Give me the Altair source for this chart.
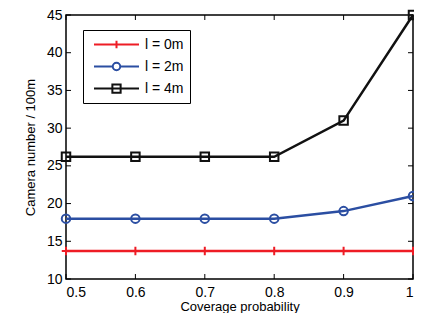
import altair as alt
import pandas as pd

# ---- data ----
coverage = [0.5, 0.6, 0.7, 0.8, 0.9, 1.0]
cam_l0 = [13.7, 13.7, 13.7, 13.7, 13.7, 13.7]
cam_l2 = [18.0, 18.0, 18.0, 18.0, 19.0, 21.0]
cam_l4 = [26.2, 26.2, 26.2, 26.2, 31.0, 45.0]
series_names = ["l = 0m", "l = 2m", "l = 4m"]
marker_keys = ["m0", "m2", "m4"]
series_colors = ["#ee1c25", "#2b4ea2", "#111111"]
x_ticks = [0.5, 0.6, 0.7, 0.8, 0.9, 1.0]
y_ticks = [10, 15, 20, 25, 30, 35, 40, 45]

rows = []
for name, key, vals in zip(series_names, marker_keys, [cam_l0, cam_l2, cam_l4]):
    for c, v in zip(coverage, vals):
        rows.append({"p": c, "v": v, "s": name, "m": key})
df = pd.DataFrame(rows)

W, H = 347, 264
FONT = "Liberation Sans"

xs = alt.Scale(domain=[0.5, 1.0], nice=False, zero=False)
ys = alt.Scale(domain=[10, 45], nice=False, zero=False)
cs = alt.Scale(domain=series_names, range=series_colors)
ms = alt.Scale(domain=marker_keys, range=series_colors)
ss = alt.Scale(domain=marker_keys,
               range=["M-1,0H1M0,-1V1", "circle", "M-1,-1H1V1H-1Z"])

shape_expr = (
    "datum.value === 'l = 0m' ? 'M-3,0H3M0,-0.5V0.5' : "
    "datum.value === 'l = 2m' ? 'M-3,0H-0.5M0.5,0H3M0.5,0A0.5,0.5,0,1,1,-0.5,0A0.5,0.5,0,1,1,0.5,0' : "
    "'M-3,0H3M-0.55,-0.55H0.55V0.55H-0.55Z'"
)

legend = alt.Legend(
    title=None, orient="none", legendX=17, legendY=15,
    symbolSize=225, symbolStrokeWidth=2, labelFontSize=14, labelFont=FONT,
    labelColor="black", strokeColor="black", fillColor="white",
    padding=6, rowPadding=5, labelOffset=20, offset=0,
    symbolOffset=19, symbolFillColor="transparent",
    symbolType=alt.ExprRef(expr=shape_expr),
)

xaxis = alt.Axis(
    values=x_ticks, format=".1~f", title="Coverage probability",
    grid=False, domain=False, ticks=False, labelPadding=6,
    labelFontSize=14, titleFontSize=13, titleFontWeight="normal",
    titlePadding=1, labelFont=FONT, titleFont=FONT,
    labelColor="black", titleColor="black")
yaxis = alt.Axis(
    values=y_ticks, title="Camera number / 100m",
    grid=False, domain=False, ticks=False, labelPadding=4,
    labelFontSize=14, titleFontSize=13, titleFontWeight="normal",
    titlePadding=9, labelFont=FONT, titleFont=FONT,
    labelColor="black", titleColor="black")

base = alt.Chart(df)

lines = base.mark_line(strokeWidth=2.5).encode(
    x=alt.X("p:Q", scale=xs, axis=xaxis),
    y=alt.Y("v:Q", scale=ys, axis=yaxis),
    color=alt.Color("s:N", scale=cs, legend=legend),
)

points = base.mark_point(filled=False, strokeWidth=2, size=72, opacity=1).encode(
    x=alt.X("p:Q", scale=xs, axis=xaxis),
    y=alt.Y("v:Q", scale=ys, axis=yaxis),
    stroke=alt.Stroke("m:N", scale=ms, legend=None),
    shape=alt.Shape("m:N", scale=ss, legend=None),
)

xt = alt.Chart(pd.DataFrame({"t": x_ticks}))
yt = alt.Chart(pd.DataFrame({"t": y_ticks}))
tk = dict(color="black", strokeWidth=1)
tick_bottom = xt.mark_rule(**tk).encode(
    x=alt.X("t:Q", scale=xs, axis=xaxis), y=alt.value(H), y2=alt.value(H - 5))
tick_top = xt.mark_rule(**tk).encode(
    x=alt.X("t:Q", scale=xs, axis=xaxis), y=alt.value(0), y2=alt.value(5))
tick_left = yt.mark_rule(**tk).encode(
    y=alt.Y("t:Q", scale=ys, axis=yaxis), x=alt.value(0), x2=alt.value(5))
tick_right = yt.mark_rule(**tk).encode(
    y=alt.Y("t:Q", scale=ys, axis=yaxis), x=alt.value(W), x2=alt.value(W - 5))

chart = alt.layer(
    tick_bottom, tick_top, tick_left, tick_right, lines, points
).properties(
    width=W, height=H, background="white",
    autosize=alt.AutoSizeParams(type="none"),
    padding={"left": 58, "top": 7, "right": 1, "bottom": 34},
).configure_view(
    stroke="black", strokeWidth=1.5
)

chart.save("out.html", embed_options={"renderer": "svg", "actions": False})
